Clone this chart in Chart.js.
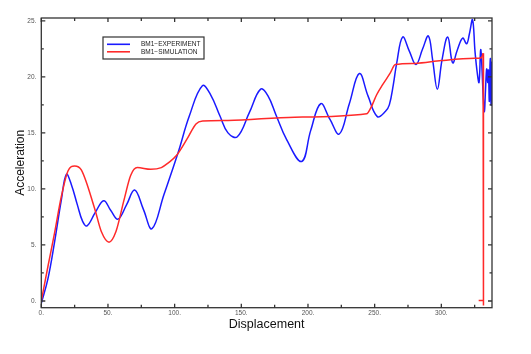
<!DOCTYPE html>
<html>
<head>
<meta charset="utf-8">
<script src="https://cdn.jsdelivr.net/npm/chart.js@4.4.1/dist/chart.umd.min.js"></script>
<style>
  html, body { margin: 0; padding: 0; background: #fff; }
  canvas { display: block; }
</style>
</head>
<body>
<canvas id="chart" width="531" height="354"></canvas>
<script>
// BM1 experiment (blue)
const expX = [0, 5, 10, 15, 18.8, 22.5, 27, 31, 34.3, 40.5, 46.8, 52, 57.5, 64, 70, 76.5, 83, 92, 102.5,
    111, 120.8, 127, 134, 140, 147, 156, 164.5, 170, 176, 184, 195.3, 202, 209.5, 216.5, 223.5, 231, 238.5,
    245, 252, 258, 261, 264, 266.5, 271, 276, 281, 286, 290.3, 293.5, 297, 300.5, 304.8,
    308.5, 312, 316, 319, 321, 323.4, 325.3, 327, 328.3, 329.5, 330.3, 331.5, 332.3, 333,
    334, 334.7, 335.3, 336, 336.5, 336.8, 337.3, 337.8, 338];
const expY = [-0.2, 2.0, 5.3, 9.0, 11.3, 10.4, 8.6, 7.1, 6.7, 7.9, 8.95, 8.1, 7.3, 8.6, 9.9, 8.2, 6.45, 9.5, 13.2,
    16.5, 19.2, 18.4, 16.5, 15.0, 14.65, 16.8, 18.9, 18.3, 16.6, 14.4, 12.45, 15.2, 17.6, 16.2, 14.9, 17.6, 20.3,
    18.3, 16.45, 16.9, 17.5, 19.3, 21.2, 23.55, 22.3, 21.1, 22.5, 23.65, 21.5, 18.9, 21.5, 23.56,
    21.25, 22.4, 23.45, 22.95, 23.8, 25.1, 22.2, 20.3, 19.5, 22.4, 21.2, 18.0, 16.9, 18.5,
    20.7, 19.5, 20.6, 17.8, 21.0, 21.6, 17.5, 21.3, 17.4];

// BM1 simulation (red)
const simX = [0, 5, 10, 15, 20, 25, 30, 40, 45, 50.8, 56, 62, 67, 72, 82, 90, 95, 101.5,
    110, 116, 121, 140, 190, 244, 247, 251.5, 256, 261.5, 265.5, 280, 300, 325, 330, 331.3];
const simY = [0, 3.1, 6.1, 9.3, 11.6, 12.05, 11.7, 8.25, 6.2, 5.25, 6.2, 9.0, 11.2, 11.9, 11.75, 11.9, 12.3, 13.0,
    14.6, 15.8, 16.05, 16.1, 16.4, 16.7, 17.2, 18.4, 19.3, 20.3, 21.1, 21.2, 21.45, 21.65, 21.7, 22.1];

// end of the simulation run: drop back to zero
const dropX = [331.3, 331.6, 331.6, 328];
const dropY = [22.1, -0.4, 0.05, 0.05];

const xTicks = [0, 50, 100, 150, 200, 250, 300];
const yTicks = [0, 5, 10, 15, 20, 25];

const legendItems = [
    { text: "BM1\u2212EXPERIMENT", color: "#1a1aff" },
    { text: "BM1\u2212SIMULATION", color: "#ff2a2a" }
];

function toPoints(xs, ys) {
    return xs.map((x, i) => ({ x: x, y: ys[i] }));
}

const framePlugin = {
    id: "frame",
    afterDraw(chart) {
        const ctx = chart.ctx;
        const a = chart.chartArea;
        const xs = chart.scales.x;
        const ys = chart.scales.y;
        ctx.save();
        ctx.strokeStyle = "#333";
        ctx.lineWidth = 1.3;

        // ticks, inside on all four sides
        ctx.beginPath();
        for (let v = 0; v <= 338; v += 25) {
            const px = xs.getPixelForValue(v);
            const len = (v % 50 === 0) ? 4 : 3;
            ctx.moveTo(px, a.bottom);
            ctx.lineTo(px, a.bottom - len);
            ctx.moveTo(px, a.top);
            ctx.lineTo(px, a.top + len);
        }
        for (let v = 0; v <= 25; v += 2.5) {
            const py = ys.getPixelForValue(v);
            const len = (v % 5 === 0) ? 4 : 2.5;
            ctx.moveTo(a.left, py);
            ctx.lineTo(a.left + len, py);
            ctx.moveTo(a.right, py);
            ctx.lineTo(a.right - len, py);
        }
        ctx.stroke();

        ctx.strokeRect(a.left, a.top, a.right - a.left, a.bottom - a.top);

        // legend box
        const bx = 103, by = 37, bw = 101, bh = 22;
        ctx.fillStyle = "#fff";
        ctx.fillRect(bx, by, bw, bh);
        ctx.lineWidth = 1.2;
        ctx.strokeStyle = "#333";
        ctx.strokeRect(bx, by, bw, bh);
        ctx.font = "6.5px 'Liberation Sans', Arial, sans-serif";
        ctx.textBaseline = "middle";
        ctx.textAlign = "left";
        legendItems.forEach((item, i) => {
            const y = 44.3 + i * 7.5;
            ctx.strokeStyle = item.color;
            ctx.lineWidth = 1.6;
            ctx.beginPath();
            ctx.moveTo(107, y);
            ctx.lineTo(130, y);
            ctx.stroke();
            ctx.fillStyle = "#222";
            ctx.fillText(item.text, 141, y + 0.3);
        });
        ctx.restore();
    }
};

new Chart(
    document.getElementById("chart"),
    {
        type: "scatter",
        data: {
            datasets: [
                {
                    label: legendItems[1].text,
                    data: toPoints(simX, simY),
                    borderColor: "#ff2a2a",
                    borderWidth: 1.5,
                    showLine: true,
                    pointRadius: 0,
                    cubicInterpolationMode: "monotone"
                },
                {
                    label: "drop",
                    data: toPoints(dropX, dropY),
                    borderColor: "#ff2a2a",
                    borderWidth: 1.5,
                    showLine: true,
                    pointRadius: 0,
                    tension: 0
                },
                {
                    label: legendItems[0].text,
                    data: toPoints(expX, expY),
                    borderColor: "#1a1aff",
                    borderWidth: 1.5,
                    showLine: true,
                    pointRadius: 0,
                    tension: 0.4
                }
            ]
        },
        options: {
            responsive: false,
            animation: false,
            layout: { padding: { top: 18, right: 39, left: 0, bottom: 0 } },
            plugins: {
                legend: { display: false },
                tooltip: { enabled: false }
            },
            scales: {
                x: {
                    type: "linear",
                    min: 0,
                    max: 338,
                    grid: { display: false, drawTicks: false },
                    border: { display: false },
                    afterFit: (scale) => { scale.height = 46.3; },
                    afterBuildTicks: (scale) => {
                        scale.ticks = xTicks.map(v => ({ value: v }));
                    },
                    ticks: {
                        padding: 2,
                        maxRotation: 0,
                        autoSkip: false,
                        color: "#555",
                        font: { family: "'Liberation Sans', Arial, sans-serif", size: 6.5 },
                        callback: (v) => v + "."
                    },
                    title: {
                        display: true,
                        text: "Displacement",
                        color: "#111",
                        font: { family: "'Liberation Sans', Arial, sans-serif", size: 12.5 },
                        padding: { top: 0, bottom: 21.5 }
                    }
                },
                y: {
                    type: "linear",
                    min: -0.6,
                    max: 25.25,
                    grid: { display: false, drawTicks: false },
                    border: { display: false },
                    afterFit: (scale) => { scale.width = 41.3; },
                    afterBuildTicks: (scale) => {
                        scale.ticks = yTicks.map(v => ({ value: v }));
                    },
                    ticks: {
                        padding: 5,
                        autoSkip: false,
                        color: "#555",
                        font: { family: "'Liberation Sans', Arial, sans-serif", size: 6.5 },
                        callback: (v) => v + "."
                    },
                    title: {
                        display: true,
                        text: "Acceleration",
                        color: "#111",
                        font: { family: "'Liberation Sans', Arial, sans-serif", size: 12 },
                        padding: { top: 13, bottom: 0 }
                    }
                }
            }
        },
        plugins: [framePlugin]
    }
);
</script>
</body>
</html>
